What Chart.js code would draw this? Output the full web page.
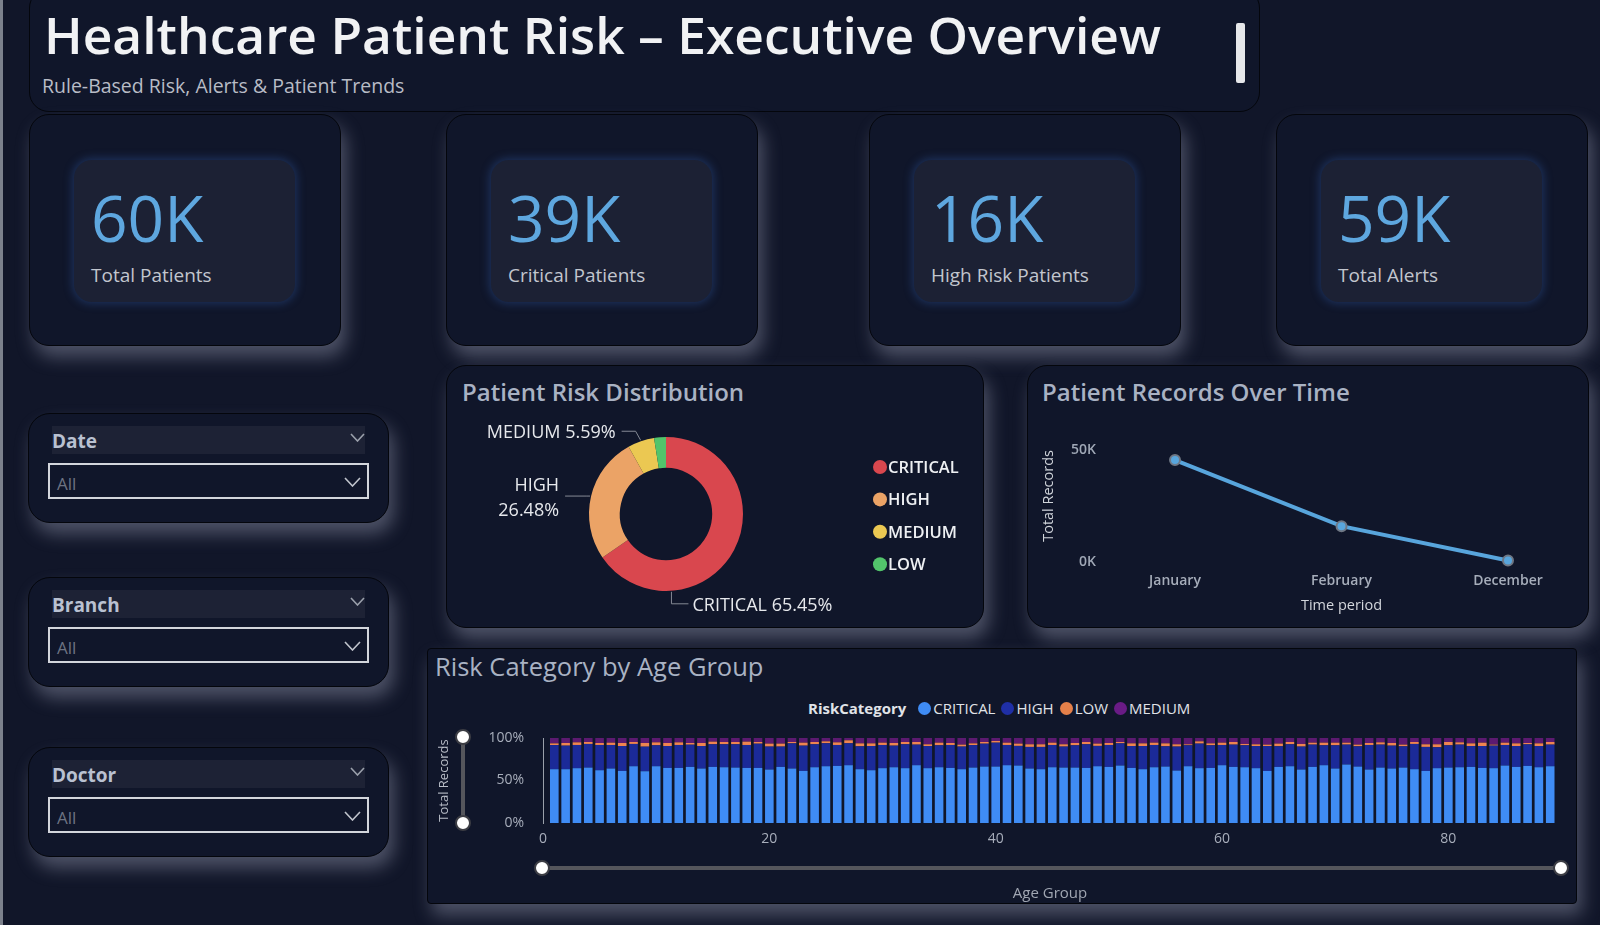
<!DOCTYPE html>
<html>
<head>
<meta charset="utf-8">
<title>Healthcare Patient Risk – Executive Overview</title>
<script src="https://cdn.jsdelivr.net/npm/chart.js@4.4.1/dist/chart.umd.min.js"></script>
<style>
  html, body { margin: 0; padding: 0; }
  body {
    width: 1600px; height: 925px; position: relative; overflow: hidden;
    background: #111629; font-family: "Open Sans", "Noto Sans", sans-serif;
  }
  .edge { position: absolute; left: 0; top: 0; width: 3px; height: 925px; background: #7c818c; }
  .box {
    position: absolute; box-sizing: border-box; background: #10162a;
    border: 1px solid #04060c; border-radius: 20px;
  }
  .glow { box-shadow: 5px 11px 18px rgba(150, 156, 178, 0.45); }
  .txt { position: absolute; white-space: nowrap; line-height: 1; }
  .inner {
    position: absolute; box-sizing: border-box; background: #1c2134; border-radius: 18px;
    box-shadow: 0 0 9px 2px rgba(44, 82, 150, 0.45);
  }
  .kpi-value { left: 17px; top: 26px; font-size: 64px; color: #5ea7df; }
  .kpi-label { left: 17px; top: 106px; font-size: 19px; color: #c2c6ce; }
  .strip { position: absolute; background: #1d2235; }
  .drop { position: absolute; box-sizing: border-box; border: 2px solid #d3d6dc; }
  .card-title { font-size: 24px; font-weight: 600; color: #a9b2c3; }
  canvas { position: absolute; }
  .legend-row { position: absolute; left: 808px; top: 698px; height: 20px; display: flex; align-items: center; font-size: 15px; color: #e0e3e8; white-space: nowrap; }
  .legend-row b { margin-right: 6px; }
  .legend-row .dot { width: 13px; height: 13px; border-radius: 50%; margin: 0 2px 0 6px; }
  .track { position: absolute; background: #55565c; }
  .knob { position: absolute; width: 16px; height: 16px; border-radius: 50%; background: #fff; border: 2px solid #3c3d44; box-sizing: border-box; }
</style>
</head>
<body>
<div class="edge"></div>

<!-- header -->
<div class="box" style="left:29px; top:-12px; width:1231px; height:124px;"></div>
<div class="txt" style="left:44px; top:9px; font-size:51.5px; font-weight:600; color:#f1f2f4;">Healthcare Patient Risk – Executive Overview</div>
<div class="txt" style="left:42px; top:76px; font-size:19.5px; color:#b8bcc6;">Rule-Based Risk, Alerts &amp; Patient Trends</div>
<div style="position:absolute; left:1236px; top:23px; width:9px; height:60px; background:#e6e7ea; border-radius:2px;"></div>

<div id="kpis"></div>
<div id="slicers"></div>

<!-- donut card -->
<div class="box glow" style="left:446px; top:365px; width:538px; height:263px;"></div>
<div class="txt card-title" style="left:462px; top:380px;">Patient Risk Distribution</div>
<canvas id="riskDonut" width="536" height="212" style="left:446px; top:410px;"></canvas>

<!-- line card -->
<div class="box glow" style="left:1027px; top:365px; width:562px; height:263px;"></div>
<div class="txt card-title" style="left:1042px; top:380px;">Patient Records Over Time</div>
<canvas id="recordsLine" width="560" height="205" style="left:1027px; top:420px;"></canvas>

<!-- age group card -->
<div class="box glow" style="left:427px; top:648px; width:1150px; height:256px; border-radius:4px;"></div>
<div class="txt" style="left:435px; top:654px; font-size:25.5px; color:#a9b2c3;">Risk Category by Age Group</div>
<div class="legend-row" id="ageLegend"><b>RiskCategory</b></div>
<canvas id="ageBars" width="1150" height="180" style="left:427px; top:725px;"></canvas>
<div class="track" style="left:461px; top:737px; width:4px; height:87px;"></div>
<div class="knob" style="left:455px; top:729px;"></div>
<div class="knob" style="left:455px; top:815px;"></div>
<div class="track" style="left:542px; top:866px; width:1019px; height:4px;"></div>
<div class="knob" style="left:534px; top:860px;"></div>
<div class="knob" style="left:1553px; top:860px;"></div>

<script>
// --- Data ---
const kpiValues = ['60K', '39K', '16K', '59K'];
const kpiLabels = ['Total Patients', 'Critical Patients', 'High Risk Patients', 'Total Alerts'];

const slicerNames = ['Date', 'Branch', 'Doctor'];

const riskCategories = ['CRITICAL', 'HIGH', 'MEDIUM', 'LOW'];
const riskShares = [65.45, 26.48, 5.59, 2.48];

const months = ['January', 'February', 'December'];
const monthlyRecords = [45500, 16000, 700];

const ageGroups = [1, 2, 3, 4, 5, 6, 7, 8, 9, 10, 11, 12, 13, 14, 15, 16, 17, 18, 19, 20,
  21, 22, 23, 24, 25, 26, 27, 28, 29, 30, 31, 32, 33, 34, 35, 36, 37, 38, 39, 40,
  41, 42, 43, 44, 45, 46, 47, 48, 49, 50, 51, 52, 53, 54, 55, 56, 57, 58, 59, 60,
  61, 62, 63, 64, 65, 66, 67, 68, 69, 70, 71, 72, 73, 74, 75, 76, 77, 78, 79, 80,
  81, 82, 83, 84, 85, 86, 87, 88, 89];
const criticalPct = [63.3, 63.3, 64.5, 65.2, 62.1, 64.1, 61.3, 66.8, 60.9, 66.8, 64.8, 64.8, 66.0, 64.1, 66.0, 65.6, 65.2, 64.8, 64.8, 62.9,
  66.0, 64.1, 61.3, 65.6, 66.8, 67.2, 68.0, 63.3, 62.1, 64.5, 65.6, 64.5, 68.0, 64.5, 65.6, 64.8, 63.3, 65.2, 66.4, 66.4,
  68.0, 67.6, 64.1, 63.3, 65.6, 65.2, 65.2, 64.8, 66.8, 66.0, 67.6, 64.8, 63.3, 65.6, 66.4, 61.7, 66.8, 64.5, 64.8, 68.0,
  66.0, 65.6, 64.5, 61.3, 66.0, 66.8, 62.9, 66.0, 68.0, 64.1, 68.8, 66.4, 62.9, 65.2, 64.1, 65.2, 63.3, 61.3, 64.5, 65.2,
  65.6, 66.0, 64.8, 64.5, 67.6, 66.0, 67.2, 65.6, 66.8];
const highPct = [28.4, 27.7, 27.3, 27.8, 29.7, 27.7, 29.3, 26.2, 28.9, 24.6, 25.8, 27.0, 26.1, 26.5, 26.6, 27.0, 27.4, 27.0, 28.5, 27.0,
  23.9, 29.6, 29.7, 27.0, 27.0, 24.6, 25.8, 26.9, 28.5, 27.3, 25.4, 28.1, 24.2, 26.1, 25.8, 27.0, 26.6, 26.5, 26.9, 28.1,
  23.8, 23.1, 25.4, 26.2, 26.2, 24.7, 26.2, 27.8, 23.9, 25.8, 26.1, 25.8, 27.3, 26.2, 23.8, 28.2, 24.6, 28.9, 26.6, 23.8,
  26.2, 25.8, 26.1, 29.3, 24.3, 25.8, 27.0, 26.2, 23.4, 27.3, 23.4, 23.8, 28.9, 27.0, 26.9, 25.0, 29.7, 28.2, 24.6, 26.2,
  26.6, 24.6, 25.8, 26.5, 24.2, 24.6, 25.3, 25.0, 25.4];
const lowPct = [2.0, 3.1, 3.1, 2.3, 2.3, 2.7, 3.5, 2.3, 4.3, 3.5, 3.5, 3.1, 2.0, 3.5, 3.1, 2.7, 2.7, 3.9, 2.0, 3.5,
  3.5, 1.6, 3.5, 2.7, 2.3, 3.1, 3.5, 3.5, 3.1, 2.7, 3.1, 2.7, 3.1, 2.0, 3.1, 2.3, 2.3, 2.0, 2.0, 2.0,
  2.7, 2.7, 3.1, 3.1, 2.7, 2.7, 2.7, 2.7, 2.7, 2.3, 1.6, 3.1, 3.1, 2.7, 3.5, 2.7, 1.2, 2.7, 2.3, 2.7,
  3.1, 1.6, 2.0, 1.6, 3.1, 2.7, 3.1, 2.3, 3.1, 3.1, 2.3, 2.0, 2.3, 2.7, 3.1, 2.0, 2.3, 3.1, 3.5, 3.9,
  2.7, 3.1, 3.9, 1.2, 2.7, 3.1, 1.6, 3.1, 3.1];
const mediumPct = [6.3, 5.9, 5.1, 4.7, 5.9, 5.5, 5.9, 4.7, 5.9, 5.1, 5.9, 5.1, 5.9, 5.9, 4.3, 4.7, 4.7, 4.3, 4.7, 6.6,
  6.6, 4.7, 5.5, 4.7, 3.9, 5.1, 2.7, 6.3, 6.3, 5.5, 5.9, 4.7, 4.7, 7.4, 5.5, 5.9, 7.8, 6.3, 4.7, 3.5,
  5.5, 6.6, 7.4, 7.4, 5.5, 7.4, 5.9, 4.7, 6.6, 5.9, 4.7, 6.3, 6.3, 5.5, 6.3, 7.4, 7.4, 3.9, 6.3, 5.5,
  4.7, 7.0, 7.4, 7.8, 6.6, 4.7, 7.0, 5.5, 5.5, 5.5, 5.5, 7.8, 5.9, 5.1, 5.9, 7.8, 4.7, 7.4, 7.4, 4.7,
  5.1, 6.3, 5.5, 7.8, 5.5, 6.3, 5.9, 6.3, 4.7];

// --- KPI cards ---
const kpiLefts = [29, 446, 869, 1276];
const kpiBox = document.getElementById('kpis');
kpiValues.forEach((v, i) => {
  const left = kpiLefts[i];
  kpiBox.insertAdjacentHTML('beforeend',
    `<div class="box glow" style="left:${left}px; top:114px; width:312px; height:232px;"></div>
     <div class="inner" style="left:${left + 45}px; top:160px; width:221px; height:142px;">
       <div class="txt kpi-value">${v}</div>
       <div class="txt kpi-label">${kpiLabels[i]}</div>
     </div>`);
});

// --- Slicers ---
const chevron = (w, h, c) =>
  `<svg width="${w}" height="${h}" viewBox="0 0 ${w} ${h}" style="position:absolute"><polyline points="1,1 ${w / 2},${h - 1} ${w - 1},1" fill="none" stroke="${c}" stroke-width="1.6"/></svg>`;
const slicerTops = [413, 577, 747];
const slicerBox = document.getElementById('slicers');
slicerNames.forEach((name, i) => {
  const top = slicerTops[i];
  slicerBox.insertAdjacentHTML('beforeend',
    `<div class="box glow" style="left:28px; top:${top}px; width:361px; height:110px; border-radius:22px;"></div>
     <div class="strip" style="left:52px; top:${top + 13}px; width:313px; height:28px;"></div>
     <div class="txt" style="left:52px; top:${top + 19}px; font-size:19px; font-weight:700; color:#b9c1d1;">${name}</div>
     <div style="position:absolute; left:350px; top:${top + 20}px;">${chevron(15, 9, '#9aa0ab')}</div>
     <div class="drop" style="left:48px; top:${top + 50}px; width:321px; height:36px;"></div>
     <div class="txt" style="left:57px; top:${top + 62}px; font-size:17px; color:#6d7382;">All</div>
     <div style="position:absolute; left:344px; top:${top + 64}px;">${chevron(17, 10, '#c0c4cc')}</div>`);
});

// --- Charts ---
Chart.defaults.font.family = '"Open Sans", "Noto Sans", sans-serif';
Chart.defaults.animation = false;

// fixed axis boxes, no label-driven padding
const fixY = w => scale => { scale.width = w; scale.paddingTop = 0; scale.paddingBottom = 0; };
const fixX = h => scale => { scale.height = h; scale.paddingLeft = 0; scale.paddingRight = 0; };

const donutColors = ['#d9474e', '#eba366', '#ebc852', '#52c46b'];

// Patient Risk Distribution (Doughnut)
const donutLabels = {
  id: 'donutLabels',
  afterDraw(chart) {
    const ctx = chart.ctx;
    const arcs = chart.getDatasetMeta(0).data;
    const cx = arcs[0].x, cy = arcs[0].y, r = arcs[0].outerRadius;
    const specs = [
      { i: 0, angle: 86 * Math.PI / 180, ex: 0, ey: 12, hx: 17, lines: [riskCategories[0] + ' ' + riskShares[0].toFixed(2) + '%'] },
      { i: 1, angle: null, ex: -4, ey: 0, hx: -21, lines: [riskCategories[1], riskShares[1].toFixed(2) + '%'] },
      { i: 2, angle: null, ex: -5, ey: -9, hx: -14, lines: [riskCategories[2] + ' ' + riskShares[2].toFixed(2) + '%'] }
    ];
    ctx.save();
    ctx.font = '18px "Open Sans", sans-serif';
    ctx.textBaseline = 'middle';
    specs.forEach(s => {
      const a = s.angle !== null ? s.angle : (arcs[s.i].startAngle + arcs[s.i].endAngle) / 2;
      const x0 = cx + (r + 1) * Math.cos(a), y0 = cy + (r + 1) * Math.sin(a);
      const x1 = x0 + s.ex, y1 = y0 + s.ey, x2 = x1 + s.hx;
      ctx.strokeStyle = '#858a95';
      ctx.lineWidth = 1;
      ctx.beginPath();
      ctx.moveTo(x0, y0); ctx.lineTo(x1, y1); ctx.lineTo(x2, y1);
      ctx.stroke();
      ctx.fillStyle = '#e6e8ec';
      const right = s.hx < 0;
      ctx.textAlign = right ? 'right' : 'left';
      const tx = x2 + (right ? -6 : 4);
      const step = 25;
      const y = y1 + 2 - (s.lines.length - 1) * step / 2;
      s.lines.forEach((t, k) => ctx.fillText(t, tx, y + k * step));
    });
    // legend
    ctx.font = '600 16.5px "Open Sans", sans-serif';
    ctx.textAlign = 'left';
    riskCategories.forEach((name, k) => {
      const ly = cy - 47 + k * 32.4;
      ctx.fillStyle = donutColors[k];
      ctx.beginPath();
      ctx.arc(cx + 214, ly, 7, 0, Math.PI * 2);
      ctx.fill();
      ctx.fillStyle = '#eef0f3';
      ctx.fillText(name, cx + 222, ly + 1);
    });
    ctx.restore();
  }
};

new Chart(document.getElementById('riskDonut'), {
  type: 'doughnut',
  data: {
    labels: riskCategories,
    datasets: [{ data: riskShares, backgroundColor: donutColors, borderWidth: 0 }]
  },
  options: {
    responsive: false,
    cutout: '60%',
    layout: { padding: { left: 143, right: 239, top: 27, bottom: 31 } },
    plugins: { legend: { display: false }, tooltip: { enabled: false } }
  },
  plugins: [donutLabels]
});

// Patient Records Over Time (Line)
new Chart(document.getElementById('recordsLine'), {
  type: 'line',
  data: {
    labels: months,
    datasets: [{
      data: monthlyRecords,
      borderColor: '#58a5dc',
      borderWidth: 4,
      pointRadius: 5,
      pointBackgroundColor: '#58a5dc',
      pointBorderColor: '#6f7784',
      pointBorderWidth: 2,
      tension: 0,
      clip: false
    }]
  },
  options: {
    responsive: false,
    layout: { padding: { top: 30, right: 79, left: 0, bottom: 0 } },
    plugins: { legend: { display: false }, tooltip: { enabled: false } },
    scales: {
      x: {
        offset: false,
        grid: { display: false, drawTicks: false },
        border: { display: false },
        ticks: { color: '#a6adba', font: { size: 14, weight: '600' }, padding: 11, maxRotation: 0 },
        title: { display: true, text: 'Time period', color: '#d3d6dc', font: { size: 14.5 }, padding: { top: 0, bottom: 10 } },
        afterFit: fixX(63)
      },
      y: {
        min: 0, max: 50000,
        grid: { display: false, drawTicks: false },
        border: { display: false },
        ticks: { stepSize: 50000, color: '#a0a8b6', font: { size: 14, weight: '600' }, padding: 79,
          callback: v => (v / 1000) + 'K' },
        title: { display: true, text: 'Total Records', align: 'end', color: '#d0d4da', font: { size: 14.5 }, padding: { top: 13, bottom: 0 } },
        afterFit: fixY(148)
      }
    }
  }
});

// Risk Category by Age Group (100% stacked column)
const ageSeries = [
  { label: 'CRITICAL', data: criticalPct, color: '#3f8cf5' },
  { label: 'HIGH', data: highPct, color: '#1b2a98' },
  { label: 'LOW', data: lowPct, color: '#ee8450' },
  { label: 'MEDIUM', data: mediumPct, color: '#5c1a70' }
];
const legendRow = document.getElementById('ageLegend');
const legendDots = ['#3f8cf5', '#1f2fa6', '#e5804a', '#6a1b86'];
ageSeries.forEach((s, i) => {
  legendRow.insertAdjacentHTML('beforeend', `<span class="dot" style="background:${legendDots[i]}"></span><span>${s.label}</span>`);
});

new Chart(document.getElementById('ageBars'), {
  type: 'bar',
  data: {
    labels: ageGroups,
    datasets: ageSeries.map(s => ({
      label: s.label, data: s.data, backgroundColor: s.color,
      borderWidth: 0, barPercentage: 0.76, categoryPercentage: 1
    }))
  },
  options: {
    responsive: false,
    layout: { padding: { top: 13, right: 20 } },
    plugins: { legend: { display: false }, tooltip: { enabled: false } },
    scales: {
      x: {
        type: 'linear', stacked: true, offset: false, min: 0, max: 89.6,
        grid: { display: false, drawTicks: false },
        border: { display: false },
        ticks: { stepSize: 20, includeBounds: false, color: '#a8aebb', font: { size: 14 }, padding: 8 },
        title: { display: true, text: 'Age Group', color: '#a0a6b2', font: { size: 15 }, padding: { top: 0, bottom: 2 } },
        afterFit: fixX(82)
      },
      y: {
        stacked: true, min: 0, max: 100,
        grid: { display: false, drawTicks: false },
        border: { display: true, color: '#9aa0aa', dash: [1, 3], width: 1 },
        ticks: { stepSize: 50, color: '#a8aebb', font: { size: 14 }, padding: 19, callback: v => v + '%' },
        title: { display: true, text: 'Total Records', color: '#b9bec8', font: { size: 13 }, padding: { top: 9, bottom: 0 } },
        afterFit: fixY(116)
      }
    }
  }
});
</script>
</body>
</html>
